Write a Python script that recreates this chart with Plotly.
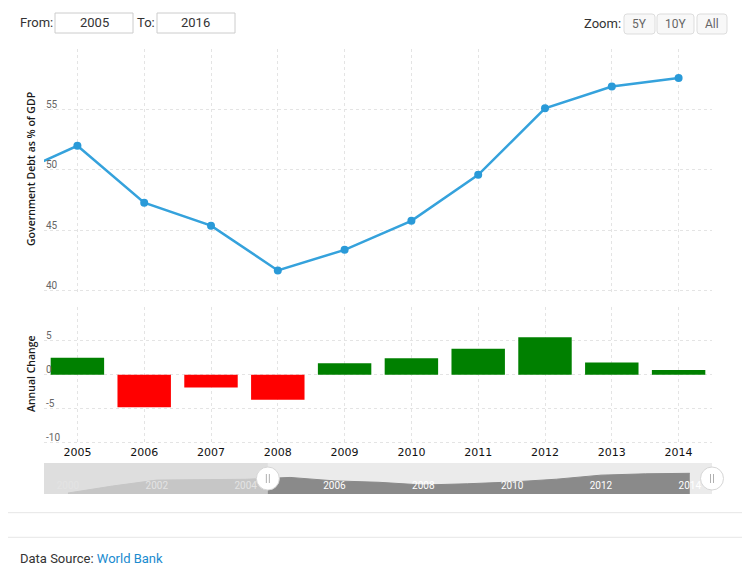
import plotly.graph_objects as go

# the page has an 8px body margin, so the figure is drawn 8px in from the window corner
OFF = 8
W, H = 750 - OFF, 565 - OFF

# data
years = list(range(2004, 2015))
debt = [49.5, 52.0, 47.3, 45.4, 41.7, 43.4, 45.8, 49.6, 55.1, 56.9, 57.6]
change_years = list(range(2005, 2015))
change = [2.5, -4.8, -1.9, -3.7, 1.7, 2.4, 3.8, 5.5, 1.8, 0.7]
nav_years = list(range(2000, 2015))
nav_debt = [30.8, 40.3, 48.4, 49.0, 49.5, 52.0, 47.3, 45.4, 41.7, 43.4, 45.8, 49.6, 55.1, 56.9, 57.6]
year_labels = [str(y) for y in change_years]
debt_ticks = [40, 45, 50, 55]
change_ticks = [-10, -5, 0, 5]
nav_ticks = list(range(2000, 2015, 2))
nav_labels = [str(y) for y in nav_ticks]
main_range = [2004.5, 2014.5]
nav_range = [1999.46, 2014.5]


def px(x):
    return (x - OFF) / W


def py(y):
    return 1 - (y - OFF) / H


def rounded_rect(x0, y0, x1, y1, r):
    # window pixel coords -> svg path in paper coords
    X = lambda v: f"{px(v):.5f}"
    Y = lambda v: f"{py(v):.5f}"
    return (f"M{X(x0 + r)},{Y(y0)} L{X(x1 - r)},{Y(y0)} Q{X(x1)},{Y(y0)} {X(x1)},{Y(y0 + r)} "
            f"L{X(x1)},{Y(y1 - r)} Q{X(x1)},{Y(y1)} {X(x1 - r)},{Y(y1)} "
            f"L{X(x0 + r)},{Y(y1)} Q{X(x0)},{Y(y1)} {X(x0)},{Y(y1 - r)} "
            f"L{X(x0)},{Y(y0 + r)} Q{X(x0)},{Y(y0)} {X(x0 + r)},{Y(y0)} Z")


grid = dict(showgrid=True, gridcolor="#e4e4e4", griddash="3px,3px", gridwidth=1, zeroline=False)
xdom = [px(44), px(712)]


def nav_paper(v):
    # navigator x value -> paper x, so the handles are not clipped by the subplot
    return xdom[0] + (v - nav_range[0]) / (nav_range[1] - nav_range[0]) * (xdom[1] - xdom[0])


fig = go.Figure()

fig.add_trace(go.Scatter(
    x=years, y=debt, xaxis="x", yaxis="y", mode="lines+markers",
    line=dict(color="#35a2dc", width=2.5), marker=dict(color="#2a9ad8", size=8),
))

fig.add_trace(go.Bar(
    x=change_years, y=change, xaxis="x2", yaxis="y2", width=0.8,
    marker=dict(color=["#008000" if v >= 0 else "#ff0000" for v in change], line=dict(width=0)),
))

fig.add_trace(go.Scatter(
    x=nav_years, y=nav_debt, xaxis="x3", yaxis="y3", mode="lines",
    fill="tozeroy", fillcolor="#8a8a8a", line=dict(color="#8a8a8a", width=1),
))

fig.update_layout(
    width=W, height=H, margin=dict(l=0, r=0, t=0, b=0),
    paper_bgcolor="white", plot_bgcolor="white", showlegend=False,
    font=dict(family="Roboto", color="#333333"),
    xaxis=dict(domain=xdom, anchor="y", range=main_range, tickvals=change_years,
               showticklabels=False, ticks="", **grid),
    yaxis=dict(domain=[py(292.8), py(49)], anchor="x", range=[39.85, 60],
               tickvals=[40, 45, 50, 55, 60], showticklabels=False, ticks="", **grid),
    xaxis2=dict(domain=xdom, anchor="y2", range=main_range, tickvals=change_years,
                ticktext=year_labels, ticks="",
                tickfont=dict(family="DejaVu Sans", size=11, color="#111111"), **grid),
    yaxis2=dict(domain=[py(443.7), py(306.7)], anchor="x2", range=[-10.15, 10],
                tickvals=[-10, -5, 0, 5, 10], showticklabels=False, ticks="", **grid),
    xaxis3=dict(domain=xdom, anchor="y3", range=nav_range, tickvals=nav_ticks,
                ticktext=nav_labels, ticks="", ticklabelposition="inside", showgrid=False,
                zeroline=False, tickfont=dict(family="Roboto", size=10, color="white")),
    yaxis3=dict(domain=[py(494), py(463)], anchor="x3", range=[29.5, 71.6], visible=False),
)

shapes = []
# navigator background and unselected mask
shapes.append(dict(type="rect", xref="x3 domain", yref="y3 domain", x0=0, x1=1, y0=0, y1=1,
                   fillcolor="#ebebeb", line=dict(width=0), layer="below"))
shapes.append(dict(type="rect", xref="x3", yref="y3 domain", x0=nav_range[0], x1=main_range[0],
                   y0=0, y1=1, fillcolor="rgba(218,218,218,0.75)", line=dict(width=0), layer="above"))
# navigator handles
for hx in main_range:
    cx = nav_paper(hx)
    shapes.append(dict(type="circle", xref="paper", yref="paper", xsizemode="pixel", ysizemode="pixel",
                       xanchor=cx, yanchor=py(478.5), x0=-11.5, x1=11.5, y0=-11.5, y1=11.5,
                       fillcolor="white", line=dict(color="#d6d6d6", width=1), layer="above"))
    for dx in [-1.5, 1.5]:
        shapes.append(dict(type="line", xref="paper", yref="paper", xsizemode="pixel", ysizemode="pixel",
                           xanchor=cx, yanchor=py(478.5), x0=dx, x1=dx, y0=-4.5, y1=4.5,
                           line=dict(color="#b0b0b0", width=1), layer="above"))
# input boxes
for x0, x1 in [(55, 133), (157, 235)]:
    shapes.append(dict(type="rect", xref="paper", yref="paper", x0=px(x0), x1=px(x1),
                       y0=py(33), y1=py(13), fillcolor="white", line=dict(color="#cccccc", width=1)))
# zoom buttons
for x0, x1 in [(624, 655), (657, 694), (697, 727)]:
    shapes.append(dict(type="path", xref="paper", yref="paper", path=rounded_rect(x0, 14, x1, 34, 3),
                       fillcolor="#f8f8f8", line=dict(color="#dddddd", width=1)))
# separators at the bottom
for yy in [512.7, 537.3]:
    shapes.append(dict(type="line", xref="paper", yref="paper", x0=0, x1=1, y0=py(yy), y1=py(yy),
                       line=dict(color="#e6e6e6", width=1)))

annotations = []


def text(x, y, s, size=13, color="#333333", xanchor="left", family="Roboto", **kw):
    annotations.append(dict(xref="paper", yref="paper", x=px(x), y=py(y), text=s, showarrow=False,
                            xanchor=xanchor, yanchor="middle",
                            font=dict(family=family, size=size, color=color), **kw))


# y tick labels sit just above their grid lines, inside the plot
for axis, ticks in [("y", debt_ticks), ("y2", change_ticks)]:
    xr = "x domain" if axis == "y" else "x2 domain"
    for t in ticks:
        annotations.append(dict(xref=xr, yref=axis, x=0, y=t, text=str(t), showarrow=False,
                                xanchor="left", yanchor="middle", yshift=5, xshift=0,
                                font=dict(family="Roboto", size=10, color="#666666")))

text(18, 23, "From:")
text(94, 23, "2005", xanchor="center")
text(135, 23, "To:")
text(196, 23, "2016", xanchor="center")
text(582, 24, "Zoom:")
text(639.5, 24, "5Y", size=12, color="#666666", xanchor="center")
text(675.5, 24, "10Y", size=12, color="#666666", xanchor="center")
text(712, 24, "All", size=12, color="#666666", xanchor="center")
text(31, 169, "Government Debt as % of GDP", size=10.5, color="#1a1a1a",
     xanchor="center", textangle=-90, family="Open Sans")
text(31, 374, "Annual Change", size=10.5, color="#1a1a1a", xanchor="center", textangle=-90,
     family="Open Sans")
text(18, 558, "Data Source: <span style='color:#1a8bcf'>World Bank</span>")

fig.update_layout(shapes=shapes, annotations=annotations)
for a in fig.layout.annotations:
    if a.font.family == "Open Sans":
        a.font.weight = 600

fig.write_html("out.html")
